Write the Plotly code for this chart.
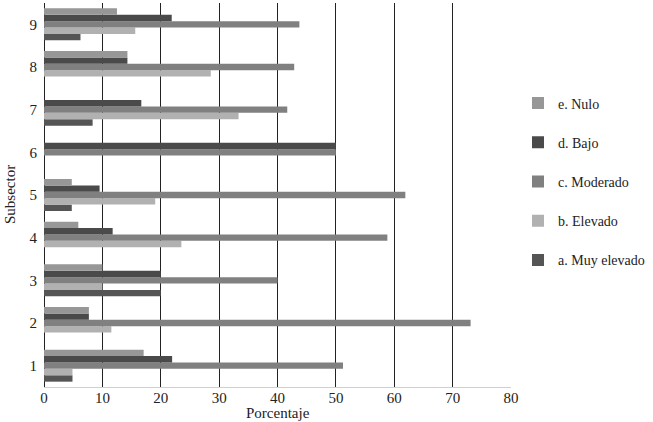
import plotly.graph_objects as go

subsectors = ["1", "2", "3", "4", "5", "6", "7", "8", "9"]
muy_elevado = [4.88, 0, 20, 0, 4.76, 0, 8.33, 0, 6.25]
elevado = [4.88, 11.54, 10, 23.53, 19.05, 0, 33.33, 28.57, 15.63]
moderado = [51.22, 73.08, 40, 58.82, 61.9, 50, 41.67, 42.86, 43.75]
bajo = [21.95, 7.69, 20, 11.76, 9.52, 50, 16.67, 14.29, 21.88]
nulo = [17.07, 7.69, 10, 5.88, 4.76, 0, 0, 14.29, 12.5]

series = [
    ("a. Muy elevado", muy_elevado, "#555555"),
    ("b. Elevado", elevado, "#b1b1b1"),
    ("c. Moderado", moderado, "#808080"),
    ("d. Bajo", bajo, "#4a4a4a"),
    ("e. Nulo", nulo, "#979797"),
]

font_family = "Liberation Serif, DejaVu Serif, serif"
W, H = 653, 422
ML, MR, MT, MB = 44, 142, 3, 35

fig = go.Figure()
for i, (name, vals, color) in enumerate(series):
    fig.add_trace(go.Bar(
        y=[int(s) for s in subsectors], x=vals, name=name, orientation="h",
        marker=dict(color=color, line=dict(width=0)),
        legendgroup=name, legendrank=len(series) - i,
    ))

fig.update_layout(
    width=W, height=H,
    margin=dict(l=ML, r=MR, t=MT, b=MB, autoexpand=False),
    barmode="group", bargap=0.25, bargroupgap=0,
    plot_bgcolor="white", paper_bgcolor="white",
    font=dict(family=font_family, size=15, color="#222222"),
    legend=dict(
        traceorder="grouped", tracegroupgap=18,
        x=1.015, y=0.78, xanchor="left", yanchor="top",
        font=dict(size=14, color="#222222"),
        itemwidth=30,
    ),
    xaxis=dict(
        range=[0, 80], dtick=10, tick0=0, automargin=False,
        showgrid=True, gridcolor="#222222", gridwidth=1,
        zeroline=True, zerolinecolor="#222222", zerolinewidth=1,
        showline=True, linecolor="#d0d0d0", linewidth=1,
        ticks="", tickfont=dict(size=15), ticklabelstandoff=-3,
    ),
    yaxis=dict(
        range=[0.5, 9.5], tickmode="array", automargin=False,
        tickvals=[int(s) for s in subsectors], ticktext=subsectors,
        showgrid=False, zeroline=False, showline=False, ticks="",
        tickfont=dict(size=15), ticklabelstandoff=6,
    ),
    annotations=[
        dict(text="Porcentaje", xref="paper", yref="paper",
             x=0.5, y=-(413 - (H - MB)) / (H - MT - MB),
             xanchor="center", yanchor="middle", showarrow=False,
             font=dict(size=15)),
        dict(text="Subsector", xref="paper", yref="paper",
             x=-(ML - 10) / (W - ML - MR), y=0.5, textangle=-90,
             xanchor="center", yanchor="middle", showarrow=False,
             font=dict(size=15)),
    ],
)

fig.write_html("out.html", config={"displayModeBar": False},
               post_script="document.body.style.margin='0px';")
